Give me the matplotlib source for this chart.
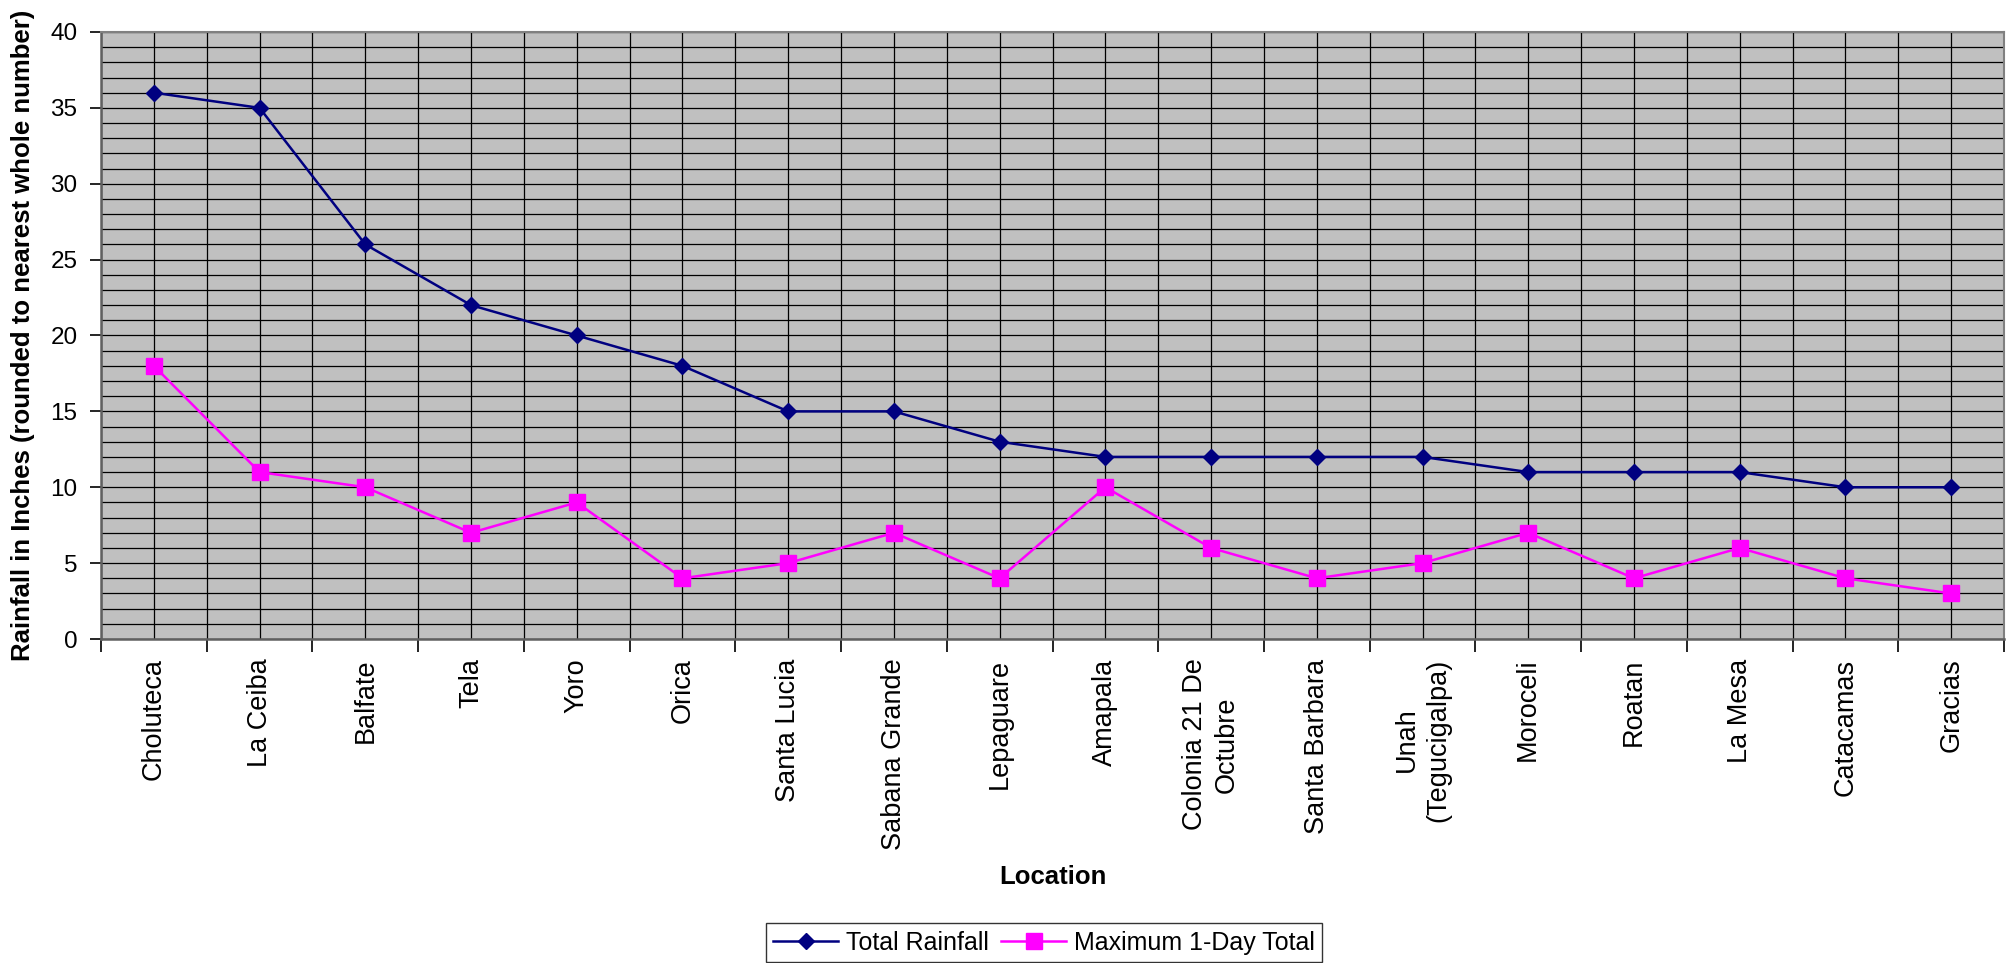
import matplotlib
matplotlib.use("Agg")
import matplotlib.pyplot as plt
from matplotlib.ticker import MultipleLocator, FixedLocator

locations = ["Choluteca", "La Ceiba", "Balfate", "Tela", "Yoro", "Orica",
             "Santa Lucia", "Sabana Grande", "Lepaguare", "Amapala",
             "Colonia 21 De\nOctubre", "Santa Barbara", "Unah\n(Tegucigalpa)",
             "Moroceli", "Roatan", "La Mesa", "Catacamas", "Gracias"]
total_rainfall = [36, 35, 26, 22, 20, 18, 15, 15, 13, 12, 12, 12, 12, 11, 11, 11, 10, 10]
max_1day = [18, 11, 10, 7, 9, 4, 5, 7, 4, 10, 6, 4, 5, 7, 4, 6, 4, 3]

plt.rcParams["font.family"] = ["Liberation Sans", "DejaVu Sans"]

W, H = 2009, 963
fig = plt.figure(figsize=(W / 100, H / 100), dpi=100)
ax = fig.add_axes([101 / W, 1 - 639 / H, (2004 - 101) / W, (639 - 32) / H])
ax.set_facecolor("#C0C0C0")

x = list(range(len(locations)))
ax.plot(x, total_rainfall, color="#000080", lw=1.8, marker="D", ms=8,
        mfc="#000080", mec="#000080", label="Total Rainfall", zorder=3)
ax.plot(x, max_1day, color="#FF00FF", lw=1.8, marker="s", ms=11,
        mfc="#FF00FF", mec="#FF00FF", label="Maximum 1-Day Total", zorder=3)

ax.set_xlim(-0.5, len(locations) - 0.5)
ax.set_ylim(0, 40)

# category ticks at centres (labels) and boundaries (tick marks)
ax.xaxis.set_major_locator(FixedLocator(x))
ax.xaxis.set_minor_locator(FixedLocator([i - 0.5 for i in range(len(locations) + 1)]))
ax.set_xticklabels(locations, rotation=90, fontsize=19.5, ha="center", va="top",
                   multialignment="center", linespacing=1.3)
ax.tick_params(axis="x", which="major", length=0, pad=14)
ax.tick_params(axis="x", which="minor", length=9, width=1.2, color="#000000", direction="out")

ax.yaxis.set_major_locator(MultipleLocator(5))
ax.yaxis.set_minor_locator(MultipleLocator(1))
ax.tick_params(axis="y", which="major", length=8, width=1.2, pad=9, labelsize=17.5)
ax.tick_params(axis="y", which="minor", length=0)

ax.grid(True, which="both", axis="both", color="#000000", lw=0.9)
ax.set_axisbelow(True)

for side in ["left", "bottom"]:
    ax.spines[side].set_color("#606060")
    ax.spines[side].set_linewidth(1.8)
for side in ["top", "right"]:
    ax.spines[side].set_color("#808080")
    ax.spines[side].set_linewidth(1.5)

ax.set_ylabel("Rainfall in Inches (rounded to nearest whole number)",
              fontsize=18.5, fontweight="bold")
ax.yaxis.set_label_coords((23 - 101) / (2004 - 101), 0.5)
ax.yaxis.label.set_va("center")

ax.set_xlabel("Location", fontsize=18.5, fontweight="bold")
ax.xaxis.set_label_coords(0.5, (639 - 877) / (639 - 32))
ax.xaxis.label.set_va("center")

leg = fig.legend(loc="upper center", bbox_to_anchor=(1044 / W, 1 - 923 / H),
                 ncol=2, fontsize=18, frameon=True, fancybox=False,
                 handlelength=2.6, handletextpad=0.3, columnspacing=0.5,
                 borderpad=0.3, borderaxespad=0)
leg.get_frame().set_edgecolor("#000000")
leg.get_frame().set_linewidth(1.0)

fig.savefig("out.png", dpi=100)
